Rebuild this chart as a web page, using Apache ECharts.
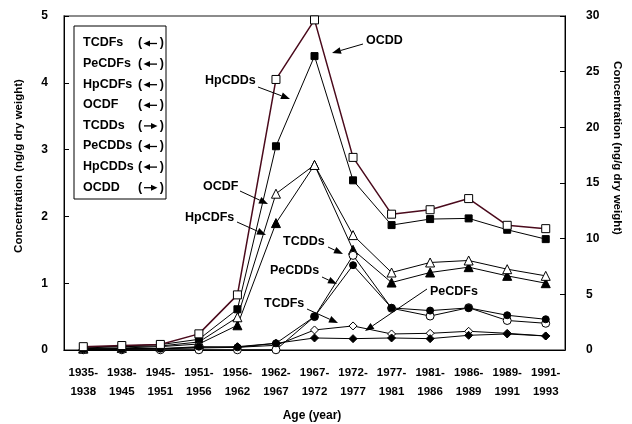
<!DOCTYPE html>
<html><head><meta charset="utf-8">
<script src="https://cdn.jsdelivr.net/npm/echarts@6/dist/echarts.min.js"></script>
<style>html,body{margin:0;padding:0;background:#fff}#c{width:632px;height:424px}</style>
</head><body><div id="c"></div>
<script>
var categories = ['1935-\n1938','1938-\n1945','1945-\n1951','1951-\n1956','1956-\n1962','1962-\n1967','1967-\n1972','1972-\n1977','1977-\n1981','1981-\n1986','1986-\n1989','1989-\n1991','1991-\n1993'];
// left axis (ng/g)
var TCDFs  = [0.01, 0.02, 0.02, 0.03, 0.04, 0.07, 0.30, 0.36, 0.24, 0.25, 0.28, 0.25, 0.21];
var PeCDFs = [0.01, 0.02, 0.02, 0.04, 0.05, 0.10, 0.18, 0.17, 0.18, 0.17, 0.22, 0.24, 0.21];
var HpCDFs = [0.02, 0.03, 0.05, 0.09, 0.37, 1.90, 2.77, 1.50, 1.01, 1.16, 1.24, 1.11, 1.00];
var OCDF   = [0.03, 0.05, 0.06, 0.12, 0.49, 2.34, 2.77, 1.72, 1.16, 1.31, 1.34, 1.21, 1.11];
var PeCDDs = [0.01, 0.01, 0.02, 0.05, 0.04, 0.10, 0.50, 1.27, 0.63, 0.59, 0.63, 0.52, 0.46];
var HpCDDs = [0.04, 0.06, 0.08, 0.16, 0.61, 3.05, 4.40, 2.54, 1.87, 1.96, 1.97, 1.80, 1.66];
// right axis (ng/g)
var TCDDs  = [0.02, 0.02, 0.02, 0.02, 0.02, 0.02, 3.0, 8.5, 3.75, 3.05, 3.8, 2.65, 2.4];
var OCDD   = [0.3, 0.4, 0.5, 1.45, 4.95, 24.3, 29.65, 17.3, 12.2, 12.6, 13.6, 11.2, 10.9];
var leftTicks = [0, 1, 2, 3, 4, 5];
var rightTicks = [0, 5, 10, 15, 20, 25, 30];
var legendNames = ['TCDFs','PeCDFs','HpCDFs','OCDF','TCDDs','PeCDDs','HpCDDs','OCDD'];
var legendDirs = ['left','left','left','left','right','left','left','right'];

var FONT = '"Liberation Sans", Arial, sans-serif';
var chart = echarts.init(document.getElementById('c'), null, {renderer:'canvas'});

function mk(name, data, yIdx, symbol, filled, size, color, lw){
  return {
    name: name, type: 'line', yAxisIndex: yIdx, data: data,
    symbol: symbol, symbolSize: size, showSymbol: true,
    lineStyle: {color: color || '#000', width: lw || 1},
    itemStyle: {color: filled ? '#000' : '#fff', borderColor: '#000', borderWidth: 1},
    emphasis: {disabled: true}, animation: false, z: 3
  };
}

function arrow(x1, y1, x2, y2){
  var dx = x2 - x1, dy = y2 - y1, L = Math.sqrt(dx*dx + dy*dy);
  var ux = dx / L, uy = dy / L, hl = 9, hw = 3.5;
  var bx = x2 - ux*hl, by = y2 - uy*hl;
  return [
    {type:'line', shape:{x1:x1, y1:y1, x2:bx, y2:by}, style:{stroke:'#000', lineWidth:1}, z:10},
    {type:'polygon', shape:{points:[[x2,y2],[bx - uy*hw, by + ux*hw],[bx + uy*hw, by - ux*hw]]}, style:{fill:'#000'}, z:10}
  ];
}
function label(t, x, y){
  return {type:'text', x:x, y:y, style:{text:t, font:'bold 12.5px ' + FONT, fill:'#000', verticalAlign:'middle', align:'left'}, z:10};
}

var graphics = [];
graphics.push({type:'rect', shape:{x:74, y:26, width:92, height:173}, style:{fill:'#fff', stroke:'#000', lineWidth:1}, z:9});
legendNames.forEach(function(n, i){
  var y = 43 + i * 20.6;
  graphics.push({type:'text', x:83, y:y, style:{text:n, font:'bold 12.5px ' + FONT, fill:'#000', verticalAlign:'middle'}, z:10});
  graphics.push({type:'text', x:138, y:y, style:{text:'(', font:'bold 12.5px ' + FONT, fill:'#000', verticalAlign:'middle'}, z:10});
  graphics.push({type:'text', x:164, y:y, style:{text:')', font:'bold 12.5px ' + FONT, fill:'#000', verticalAlign:'middle', align:'right'}, z:10});
  var yc = y + 0.5;
  if (legendDirs[i] === 'left') {
    graphics.push({type:'polygon', shape:{points:[[143.5,yc],[150,yc-3],[150,yc+3]]}, style:{fill:'#000'}, z:10});
    graphics.push({type:'line', shape:{x1:150, y1:yc, x2:157, y2:yc}, style:{stroke:'#000', lineWidth:1.3}, z:10});
  } else {
    graphics.push({type:'line', shape:{x1:144, y1:yc, x2:151, y2:yc}, style:{stroke:'#000', lineWidth:1.3}, z:10});
    graphics.push({type:'polygon', shape:{points:[[157.5,yc],[151,yc-3],[151,yc+3]]}, style:{fill:'#000'}, z:10});
  }
});
var ann = [
  ['OCDD', 366, 41, 363, 44, 332, 53],
  ['HpCDDs', 205, 81, 258, 87, 290, 99],
  ['OCDF', 203, 187, 240, 191, 268, 204],
  ['HpCDFs', 185, 218, 237, 222, 266, 235],
  ['TCDDs', 283, 242, 328, 247, 343, 254],
  ['PeCDDs', 270, 271, 322, 277, 337, 284],
  ['TCDFs', 264, 304, 307, 309, 338, 323],
  ['PeCDFs', 430, 292, 427, 289, 365, 331]
];
ann.forEach(function(a){
  graphics.push(label(a[0], a[1], a[2]));
  arrow(a[3], a[4], a[5], a[6]).forEach(function(g){ graphics.push(g); });
});
graphics.push({type:'text', x:19, y:166, rotation:Math.PI/2, style:{text:'Concentration (ng/g dry weight)', font:'bold 11.5px ' + FONT, fill:'#000', align:'center', verticalAlign:'middle'}, z:10});
graphics.push({type:'text', x:617, y:148, rotation:-Math.PI/2, style:{text:'Concentration (ng/g dry weight)', font:'bold 11.5px ' + FONT, fill:'#000', align:'center', verticalAlign:'middle'}, z:10});
graphics.push({type:'text', x:312, y:416, style:{text:'Age (year)', font:'bold 12px ' + FONT, fill:'#000', align:'center', verticalAlign:'middle'}, z:10});

chart.setOption({
  animation: false,
  backgroundColor: '#fff',
  grid: {left:64, right:67, top:16, bottom:74, show:true, borderColor:'#666', borderWidth:1.5, backgroundColor:'transparent'},
  xAxis: {
    type:'category', data: categories, boundaryGap: true,
    axisLine:{lineStyle:{color:'#000', width:1}},
    axisTick:{inside:true, length:5, lineStyle:{color:'#000'}},
    axisLabel:{color:'#000', fontFamily:FONT, fontWeight:'bold', fontSize:11.5, lineHeight:19, margin:13, interval:0}
  },
  yAxis: [
    {type:'value', min:0, max:5, interval:1, position:'left',
     axisLine:{show:true, lineStyle:{color:'#000', width:1}},
     axisTick:{show:true, inside:true, length:5, lineStyle:{color:'#000'}},
     splitLine:{show:false},
     axisLabel:{color:'#000', fontFamily:FONT, fontWeight:'bold', fontSize:12, margin:16,
       formatter:function(v){ return leftTicks.indexOf(v) >= 0 ? String(v) : ''; }}},
    {type:'value', min:0, max:30, interval:5, position:'right',
     axisLine:{show:true, lineStyle:{color:'#000', width:1}},
     axisTick:{show:true, inside:true, length:5, lineStyle:{color:'#000'}},
     splitLine:{show:false},
     axisLabel:{color:'#000', fontFamily:FONT, fontWeight:'bold', fontSize:12, margin:21,
       formatter:function(v){ return rightTicks.indexOf(v) >= 0 ? String(v) : ''; }}}
  ],
  series: [
    mk('TCDFs', TCDFs, 0, 'diamond', false, 8),
    mk('PeCDFs', PeCDFs, 0, 'diamond', true, 8),
    mk('HpCDFs', HpCDFs, 0, 'triangle', true, 9),
    mk('OCDF', OCDF, 0, 'triangle', false, 9),
    mk('TCDDs', TCDDs, 1, 'circle', false, 8),
    mk('PeCDDs', PeCDDs, 0, 'circle', true, 7),
    mk('HpCDDs', HpCDDs, 0, 'rect', true, 7),
    mk('OCDD', OCDD, 1, 'rect', false, 8, '#4a0a1c', 1.5)
  ],
  graphic: graphics
});
</script></body></html>
